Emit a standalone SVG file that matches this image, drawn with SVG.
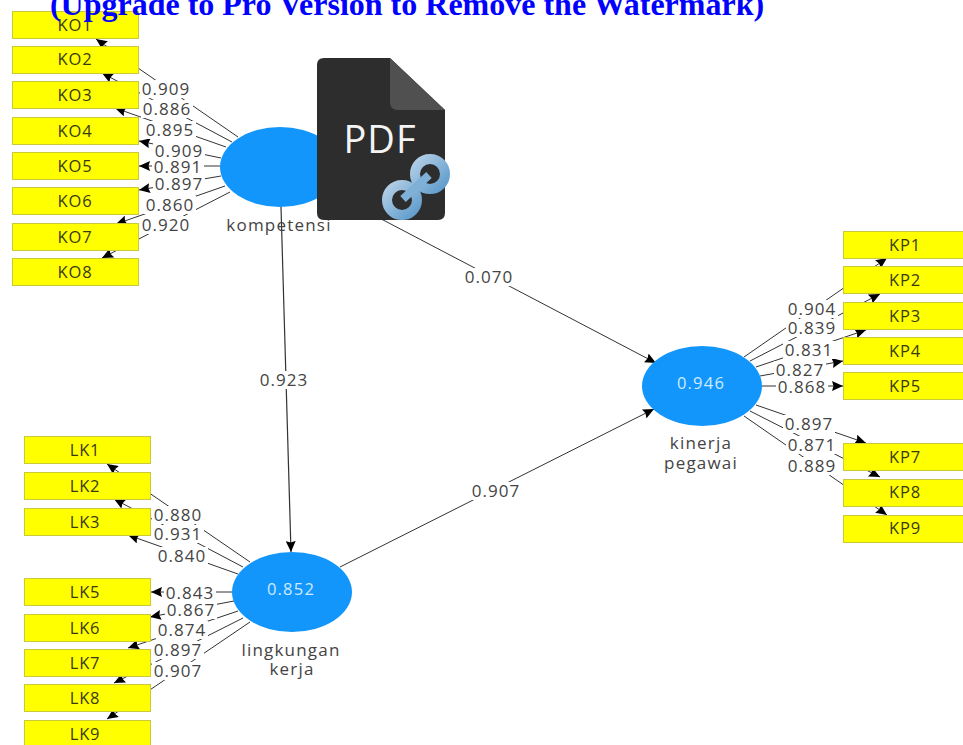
<svg xmlns="http://www.w3.org/2000/svg" width="963" height="745" viewBox="0 0 963 745">
<style>
text{font-family:"Open Sans","Noto Sans","DejaVu Sans",sans-serif;text-anchor:middle;fill:#333;}
.box{fill:#ffff00;stroke:#c9c93a;stroke-width:1;}
.ind{font-size:16.5px;letter-spacing:.8px;fill:#3a3a10;}
.lat{fill:#1296fb;}
.val{font-size:16.5px;letter-spacing:1.2px;fill:#cfeaff;}
.name{font-size:17px;letter-spacing:1.2px;fill:#444;}
.lab{font-size:17px;letter-spacing:1px;fill:#444;}
.bg{fill:#fff;}
.c line{stroke:#333;stroke-width:1;marker-end:url(#a);}
.c line.b{stroke-width:1.2;}
</style>
<defs>
<marker id="a" markerUnits="userSpaceOnUse" markerWidth="12" markerHeight="10" refX="11" refY="5" orient="auto"><path d="M0,0L11,5L0,10L1.500,5Z" fill="#000"/></marker>
<linearGradient id="ring" x1="0" y1="0" x2="1" y2="1"><stop offset="0" stop-color="#b4cfe6"/><stop offset="1" stop-color="#5e9bcb"/></linearGradient>
</defs>
<rect width="963" height="745" fill="#fff"/>
<g id="connectors" class="c">
<line x1="238" y1="137" x2="96" y2="39"/>
<line x1="232" y1="142" x2="102" y2="73"/>
<line x1="226" y1="147" x2="115" y2="108"/>
<line x1="221" y1="158" x2="139" y2="141"/>
<line x1="220" y1="166" x2="139" y2="166"/>
<line x1="221" y1="176" x2="139" y2="190"/>
<line x1="225" y1="186" x2="116" y2="224"/>
<line x1="230" y1="192" x2="102" y2="258"/>
<line x1="250" y1="562" x2="107" y2="464"/>
<line x1="243" y1="567" x2="114" y2="499"/>
<line x1="238" y1="574" x2="128" y2="535"/>
<line x1="232" y1="592" x2="151" y2="592"/>
<line x1="234" y1="601" x2="150" y2="617"/>
<line x1="238" y1="611" x2="128" y2="648"/>
<line x1="243" y1="618" x2="114" y2="683"/>
<line x1="250" y1="622" x2="107" y2="719"/>
<line x1="744" y1="357" x2="887" y2="258"/>
<line x1="750" y1="361" x2="880" y2="294"/>
<line x1="756" y1="367" x2="866" y2="330"/>
<line x1="760" y1="376" x2="843" y2="361"/>
<line x1="762" y1="386" x2="843" y2="386"/>
<line x1="756" y1="405" x2="866" y2="443"/>
<line x1="750" y1="411" x2="880" y2="477"/>
<line x1="744" y1="416" x2="887" y2="515"/>
<line class="b" x1="281" y1="207" x2="291" y2="552"/>
<line x1="340" y1="567" x2="654" y2="409"/>
<line x1="345" y1="200" x2="656" y2="363"/>
</g>
<g id="labels">
<rect class="bg" x="140" y="80" width="52" height="18"/><text class="lab" x="166" y="95">0.909</text>
<rect class="bg" x="141" y="100" width="52" height="18"/><text class="lab" x="167" y="115">0.886</text>
<rect class="bg" x="144" y="121" width="52" height="18"/><text class="lab" x="170" y="136">0.895</text>
<rect class="bg" x="153" y="142" width="52" height="18"/><text class="lab" x="179" y="157">0.909</text>
<rect class="bg" x="152" y="160" width="52" height="15"/><text class="lab" x="178" y="173">0.891</text>
<rect class="bg" x="153" y="174" width="52" height="18"/><text class="lab" x="179" y="190">0.897</text>
<rect class="bg" x="144" y="196" width="52" height="18"/><text class="lab" x="170" y="211">0.860</text>
<rect class="bg" x="140" y="216" width="52" height="18"/><text class="lab" x="166" y="231">0.920</text>
<rect class="bg" x="152" y="506" width="52" height="18"/><text class="lab" x="178" y="521">0.880</text>
<rect class="bg" x="152" y="525" width="52" height="18"/><text class="lab" x="178" y="540">0.931</text>
<rect class="bg" x="156" y="547" width="52" height="18"/><text class="lab" x="182" y="562">0.840</text>
<rect class="bg" x="164" y="584" width="52" height="18"/><text class="lab" x="190" y="599">0.843</text>
<rect class="bg" x="165" y="601" width="52" height="18"/><text class="lab" x="191" y="616">0.867</text>
<rect class="bg" x="156" y="621" width="52" height="18"/><text class="lab" x="182" y="636">0.874</text>
<rect class="bg" x="152" y="641" width="52" height="18"/><text class="lab" x="178" y="656">0.897</text>
<rect class="bg" x="152" y="662" width="52" height="18"/><text class="lab" x="178" y="677">0.907</text>
<rect class="bg" x="786" y="300" width="52" height="18"/><text class="lab" x="812" y="315">0.904</text>
<rect class="bg" x="786" y="319" width="52" height="18"/><text class="lab" x="812" y="334">0.839</text>
<rect class="bg" x="783" y="341" width="52" height="18"/><text class="lab" x="809" y="356">0.831</text>
<rect class="bg" x="774" y="361" width="52" height="18"/><text class="lab" x="800" y="376">0.827</text>
<rect class="bg" x="776" y="378" width="52" height="18"/><text class="lab" x="802" y="393">0.868</text>
<rect class="bg" x="783" y="415" width="52" height="18"/><text class="lab" x="809" y="430">0.897</text>
<rect class="bg" x="786" y="436" width="52" height="18"/><text class="lab" x="812" y="451">0.871</text>
<rect class="bg" x="786" y="457" width="52" height="18"/><text class="lab" x="812" y="472">0.889</text>
<rect class="bg" x="255" y="371" width="58" height="18"/><text class="lab" x="284" y="386">0.923</text>
<rect class="bg" x="470" y="482" width="52" height="18"/><text class="lab" x="496" y="497">0.907</text>
<rect class="bg" x="463" y="268" width="52" height="18"/><text class="lab" x="489" y="283">0.070</text>
</g>
<g id="KO1"><rect class="box" x="12.500" y="11.500" width="126" height="27"/><text class="ind" x="75" y="31">KO1</text></g>
<g id="KO2"><rect class="box" x="12.500" y="46.500" width="126" height="27"/><text class="ind" x="75" y="65">KO2</text></g>
<g id="KO3"><rect class="box" x="12.500" y="81.500" width="126" height="27"/><text class="ind" x="75" y="101">KO3</text></g>
<g id="KO4"><rect class="box" x="12.500" y="117.500" width="126" height="27"/><text class="ind" x="75" y="137">KO4</text></g>
<g id="KO5"><rect class="box" x="12.500" y="152.500" width="126" height="27"/><text class="ind" x="75" y="172">KO5</text></g>
<g id="KO6"><rect class="box" x="12.500" y="187.500" width="126" height="27"/><text class="ind" x="75" y="207">KO6</text></g>
<g id="KO7"><rect class="box" x="12.500" y="223.500" width="126" height="27"/><text class="ind" x="75" y="243">KO7</text></g>
<g id="KO8"><rect class="box" x="12.500" y="258.500" width="126" height="27"/><text class="ind" x="75" y="278">KO8</text></g>
<g id="LK1"><rect class="box" x="24.500" y="436.500" width="126" height="27"/><text class="ind" x="85" y="456">LK1</text></g>
<g id="LK2"><rect class="box" x="24.500" y="472.500" width="126" height="27"/><text class="ind" x="85" y="492">LK2</text></g>
<g id="LK3"><rect class="box" x="24.500" y="508.500" width="126" height="27"/><text class="ind" x="85" y="528">LK3</text></g>
<g id="LK5"><rect class="box" x="24.500" y="578.500" width="126" height="27"/><text class="ind" x="85" y="598">LK5</text></g>
<g id="LK6"><rect class="box" x="24.500" y="614.500" width="126" height="27"/><text class="ind" x="85" y="634">LK6</text></g>
<g id="LK7"><rect class="box" x="24.500" y="649.500" width="126" height="27"/><text class="ind" x="85" y="669">LK7</text></g>
<g id="LK8"><rect class="box" x="24.500" y="684.500" width="126" height="27"/><text class="ind" x="85" y="704">LK8</text></g>
<g id="LK9"><rect class="box" x="24.500" y="720.500" width="126" height="27"/><text class="ind" x="85" y="740">LK9</text></g>
<g id="KP1"><rect class="box" x="843.500" y="231.500" width="121" height="27"/><text class="ind" x="905" y="251">KP1</text></g>
<g id="KP2"><rect class="box" x="843.500" y="266.500" width="121" height="27"/><text class="ind" x="905" y="286">KP2</text></g>
<g id="KP3"><rect class="box" x="843.500" y="302.500" width="121" height="27"/><text class="ind" x="905" y="322">KP3</text></g>
<g id="KP4"><rect class="box" x="843.500" y="337.500" width="121" height="27"/><text class="ind" x="905" y="357">KP4</text></g>
<g id="KP5"><rect class="box" x="843.500" y="372.500" width="121" height="27"/><text class="ind" x="905" y="392">KP5</text></g>
<g id="KP7"><rect class="box" x="843.500" y="443.500" width="121" height="27"/><text class="ind" x="905" y="463">KP7</text></g>
<g id="KP8"><rect class="box" x="843.500" y="479.500" width="121" height="27"/><text class="ind" x="905" y="498">KP8</text></g>
<g id="KP9"><rect class="box" x="843.500" y="515.500" width="121" height="27"/><text class="ind" x="905" y="534">KP9</text></g>
<g id="kompetensi"><ellipse class="lat" cx="280" cy="167" rx="60" ry="40"/><text class="name" x="279" y="231">kompetensi</text></g>
<g id="lingkungan-kerja"><ellipse class="lat" cx="292" cy="592" rx="60" ry="40"/><text class="val" x="291" y="595">0.852</text><text class="name" x="291" y="656">lingkungan</text><text class="name" x="292" y="675">kerja</text></g>
<g id="kinerja-pegawai"><ellipse class="lat" cx="702" cy="386" rx="60" ry="40"/><text class="val" x="701" y="389">0.946</text><text class="name" x="701" y="449">kinerja</text><text class="name" x="701" y="469">pegawai</text></g>
<g id="pdf-icon">
<path d="M324,58H390L445,110V213Q445,220 438,220H324Q317,220 317,213V65Q317,58 324,58Z" fill="#2d2d2d"/>
<path d="M390,58L445,110H398Q390,110 390,102Z" fill="#505050"/>
<text x="380" y="153" style="font-size:38px;letter-spacing:1px;fill:#f4f4f4;font-family:'Open Sans',sans-serif">PDF</text>
<circle cx="430" cy="174" r="15" fill="none" stroke="url(#ring)" stroke-width="10"/>
<circle cx="402" cy="200" r="15" fill="none" stroke="url(#ring)" stroke-width="10"/>
<path d="M403,199L429,175" stroke="#7fb0d8" stroke-width="8" fill="none"/>
</g>
<text x="407" y="15" style="font-family:'Liberation Serif',serif;font-weight:bold;font-size:32px;fill:#0000ff">(Upgrade to Pro Version to Remove the Watermark)</text>
</svg>
